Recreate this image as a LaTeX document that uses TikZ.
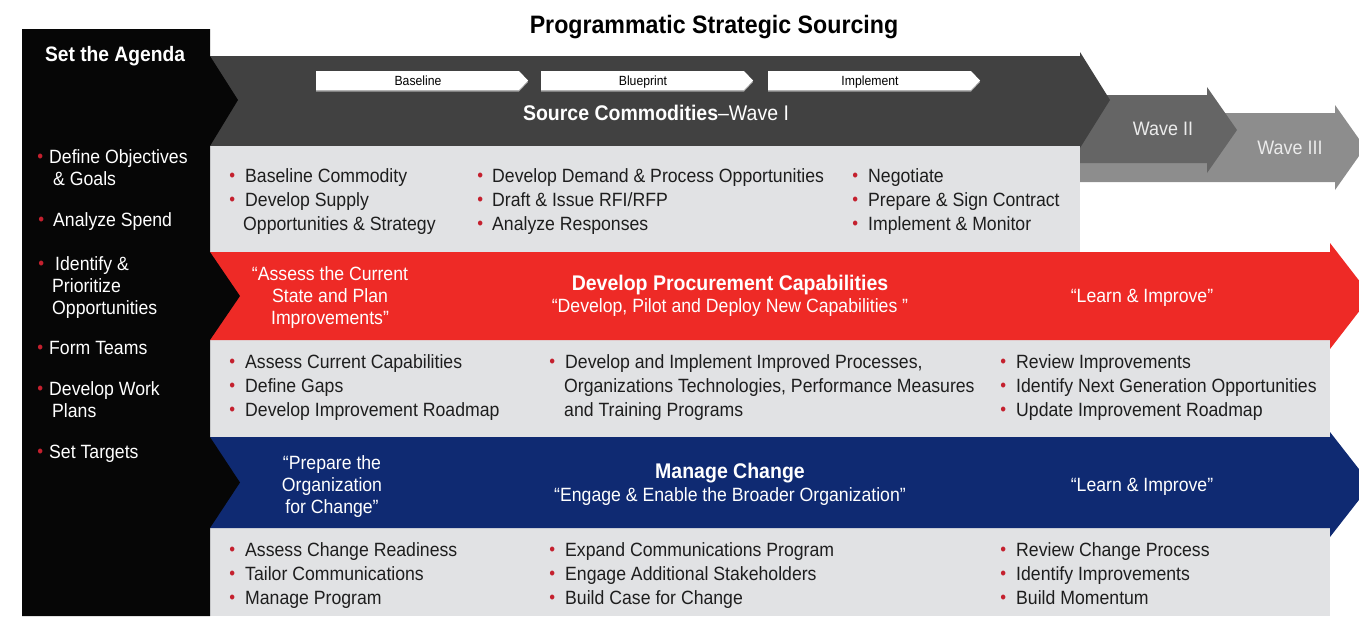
\documentclass[tikz,border=0pt]{standalone}
\usepackage{fontspec}
\setmainfont{Liberation Sans}[FakeStretch=0.92]
\usetikzlibrary{positioning}

\definecolor{agenda}{HTML}{060606}
\definecolor{waveone}{HTML}{414141}
\definecolor{wavetwo}{HTML}{656565}
\definecolor{wavethree}{HTML}{8D8D8D}
\definecolor{panel}{HTML}{E1E2E4}
\definecolor{procred}{HTML}{EE2A26}
\definecolor{changeblue}{HTML}{0F2A72}
\definecolor{dotred}{HTML}{C4202E}
\definecolor{ink}{HTML}{1E1E1E}

\newcommand\titlefont{\bfseries\fontsize{25.2}{28}\selectfont}
\newcommand\headfont{\bfseries\fontsize{21.2}{24}\selectfont}
\newcommand\bodyfont{\fontsize{19.2}{24}\selectfont}
\newcommand\quotefont{\fontsize{19.2}{22}\selectfont}
\newcommand\tabfont{\fontsize{13.3}{14}\selectfont}
% red bullet, centred on the node's left edge
\newcommand\bul[1][13pt]{\makebox[0pt][c]{\textcolor{dotred}{\raisebox{0.5pt}{\fontsize{18}{18}\selectfont\textbullet}}}\hspace{#1}}

\tikzset{
  % multi-line nodes sit on the baseline of their last line
  lst/.style={inner sep=0, anchor=base west, align=left, font=\bodyfont, text=ink},
  agd/.style={lst, font=\quotefont, text=white},
  ontxt/.style={inner sep=0, anchor=base, align=center, font=\quotefont, text=white},
  tabarrow/.style={fill=white},
}

\begin{document}
\begin{tikzpicture}[x=1pt,y=-1pt]
  \useasboundingbox (0,0) rectangle (1359,616);

  \node[anchor=base, font=\titlefont] (title) at (714,33) {Programmatic Strategic Sourcing};

  % later waves sit behind wave I
  \fill[wavethree] (1070,113) -- (1335,113) -- (1335,105) -- (1365,147.5) -- (1335,190) -- (1335,182) -- (1070,182) -- cycle;
  \fill[wavetwo] (1070,95) -- (1207,95) -- (1207,87) -- (1237,130) -- (1207,173) -- (1207,163) -- (1070,163) -- cycle;
  \fill[waveone] (210,56) -- (1080,56) -- (1080,52) -- (1110,100) -- (1080,148) -- (1080,146) -- (210,146) -- cycle;

  % grey panels
  \fill[panel] (210,146) rectangle (1080,252);
  \fill[panel] (210,340) rectangle (1330,437);
  \fill[panel] (210,528) rectangle (1330,616);

  % capability and change bands
  \fill[procred] (210,252) -- (1330,252) -- (1330,243) -- (1371,296) -- (1330,349) -- (1330,340) -- (210,340) -- cycle;
  \fill[changeblue] (210,437) -- (1330,437) -- (1330,432) -- (1371,484.5) -- (1330,537) -- (1330,528) -- (210,528) -- cycle;

  % agenda column with its three notches
  \fill[agenda] (22,29) -- (210,29) -- (210,56) -- (238,100) -- (210,146)
    -- (210,252) -- (240,296) -- (210,340)
    -- (210,437) -- (240,482.5) -- (210,528) -- (210,616) -- (22,616) -- cycle;

  % phase tabs
  \foreach \x/\lbl [count=\i] in {316/Baseline, 541/Blueprint, 768/Implement}{
    \fill[black!35] (\x,72.5) -- ++(203,0) -- ++(9,9.5) -- ++(-9,9.5) -- ++(-203,0) -- cycle;
    \fill[tabarrow] (\x,71) -- ++(203,0) -- ++(9,9.5) -- ++(-9,9.5) -- ++(-203,0) -- cycle;
    \node[anchor=base, inner sep=0, font=\tabfont] (tab\i) at (\x+102,85) {\lbl};
  }

  \node[ontxt, font=\headfont] (wave1) at (656,120) {Source Commodities\textmd{–Wave I}};
  \node[ontxt, font=\fontsize{19.5}{22}\selectfont, text=white!92!black] (wave2) at (1163,135) {Wave II};
  \node[ontxt, font=\fontsize{19.5}{22}\selectfont, text=white!92!black] (wave3) at (1290,154) {Wave III};

  % agenda
  \node[ontxt, font=\bfseries\fontsize{20.9}{24}\selectfont] (agendahead) at (115,61) {Set the Agenda};
  \node[agd] (ag1) at (40,185) {\bul[9pt]Define Objectives\\\hspace*{13pt}\& Goals};
  \node[agd] (ag2) at (41,226) {\bul[12pt]Analyze Spend};
  \node[agd] (ag3) at (41,314) {\bul[14pt]Identify \&\\\hspace*{11pt}Prioritize\\\hspace*{11pt}Opportunities};
  \node[agd] (ag4) at (40,354) {\bul[9pt]Form Teams};
  \node[agd] (ag5) at (40,417) {\bul[9pt]Develop Work\\\hspace*{12pt}Plans};
  \node[agd] (ag6) at (40,458) {\bul[9pt]Set Targets};

  % wave I activities
  \node[lst] (src1) at (232,230) {\bul Baseline Commodity\\\bul Develop Supply\\\hspace*{11pt}Opportunities \& Strategy};
  \node[lst] (src2) at (480,230) {\bul[12pt]Develop Demand \& Process Opportunities\\\bul[12pt]Draft \& Issue RFI/RFP\\\bul[12pt]Analyze Responses};
  \node[lst] (src3) at (855,230) {\bul Negotiate\\\bul Prepare \& Sign Contract\\\bul Implement \& Monitor};

  % procurement capabilities
  \node[ontxt] (procq1) at (330,324) {“Assess the Current\\State and Plan\\Improvements”};
  \node[ontxt, font=\headfont] (prochead) at (730,290) {Develop Procurement Capabilities};
  \node[ontxt] (procq2) at (730,312) {“Develop, Pilot and Deploy New Capabilities ”};
  \node[ontxt] (procq3) at (1142,302) {“Learn \& Improve”};
  \node[lst] (proc1) at (232,416) {\bul Assess Current Capabilities\\\bul Define Gaps\\\bul Develop Improvement Roadmap};
  \node[lst] (proc2) at (552,416) {\bul Develop and Implement Improved Processes,\\\hspace*{12pt}Organizations Technologies, Performance Measures\\\hspace*{12pt}and Training Programs};
  \node[lst] (proc3) at (1003,416) {\bul Review Improvements\\\bul Identify Next Generation Opportunities\\\bul Update Improvement Roadmap};

  % change management
  \node[ontxt] (chgq1) at (332,513) {“Prepare the\\Organization\\for Change”};
  \node[ontxt, font=\headfont] (chghead) at (730,478) {Manage Change};
  \node[ontxt] (chgq2) at (730,501) {“Engage \& Enable the Broader Organization”};
  \node[ontxt] (chgq3) at (1142,491) {“Learn \& Improve”};
  \node[lst] (chg1) at (232,604) {\bul Assess Change Readiness\\\bul Tailor Communications\\\bul Manage Program};
  \node[lst] (chg2) at (552,604) {\bul Expand Communications Program\\\bul Engage Additional Stakeholders\\\bul Build Case for Change};
  \node[lst] (chg3) at (1003,604) {\bul Review Change Process\\\bul Identify Improvements\\\bul Build Momentum};
\end{tikzpicture}
\end{document}
